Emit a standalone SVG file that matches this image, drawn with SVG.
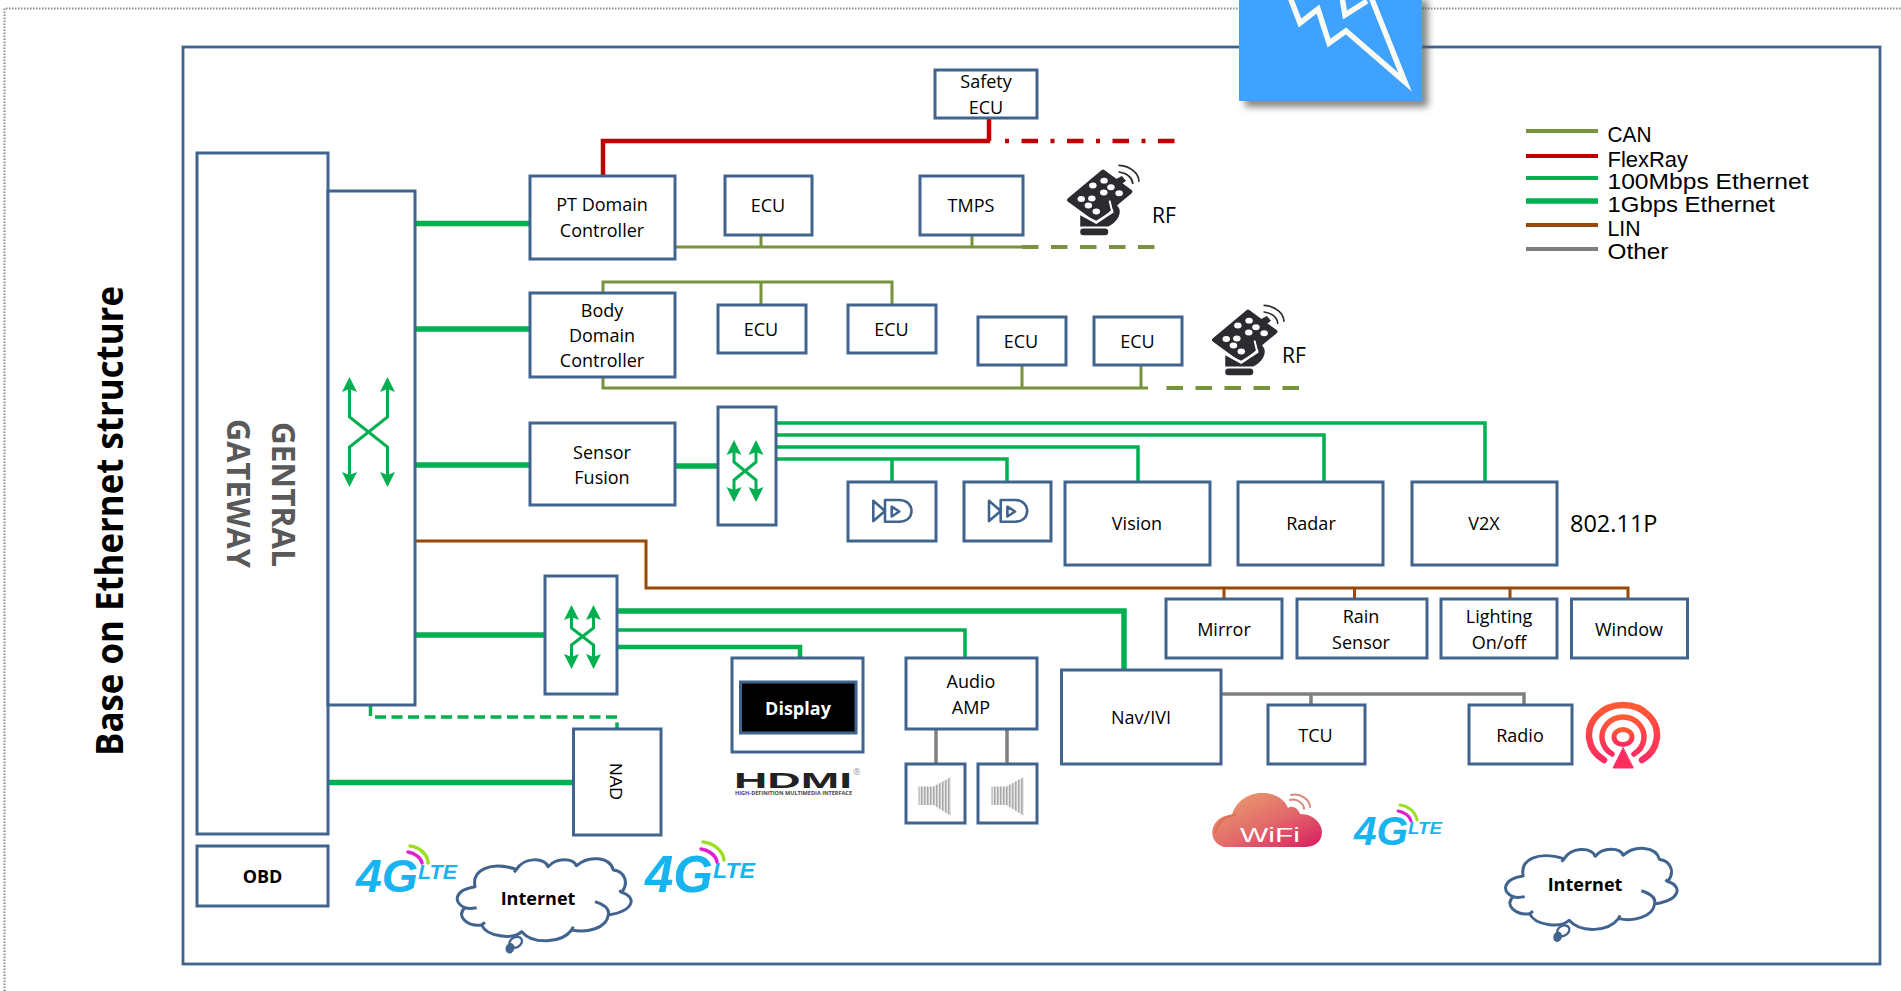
<svg xmlns="http://www.w3.org/2000/svg" width="1901" height="991" viewBox="0 0 1901 991">
<style>
text{font-family:"Open Sans","Liberation Sans",sans-serif;fill:#000}
.l{font-size:18px;text-anchor:middle}
.b{font-weight:700}
.lg{font-size:21.5px;font-family:"Liberation Sans",sans-serif}
.gw{font-size:33px;font-weight:700;fill:#595959}
.box{fill:#fff;stroke:#41648f;stroke-width:3;stroke-linejoin:miter}
.wire{fill:none;stroke-linejoin:miter}
.can{stroke:#77933c;stroke-width:3}
.can4{stroke:#77933c;stroke-width:4}
.fr{stroke:#c00000;stroke-width:4.5}
.e1{stroke:#00b050;stroke-width:3.5}
.e2{stroke:#00b050;stroke-width:5.5}
.lin{stroke:#984807;stroke-width:3}
.oth{stroke:#7f7f7f;stroke-width:3.5}
.sw{fill:none;stroke:#00b050;stroke-width:3;marker-start:url(#ah);marker-end:url(#ah)}
.g4{font-weight:700;font-style:italic;fill:#18b4f0;font-family:"Liberation Sans",sans-serif}
.arc{fill:none;stroke-linecap:round}
.cl{fill:#fff;stroke:#41648f;stroke-width:9;stroke-linejoin:round}
.dk{fill:#2b2b30}
</style>
<defs>
<marker id="ah" viewBox="0 0 16 16" refX="3" refY="8" markerWidth="16" markerHeight="16" markerUnits="userSpaceOnUse" orient="auto-start-reverse"><path d="M0,0.5 L15,8 L0,15.5 L3,8Z" fill="#00b050"/></marker>
<pattern id="stripes" width="3" height="8" patternUnits="userSpaceOnUse"><rect width="3" height="8" fill="#e6e6e6"/><rect width="1.500" height="8" fill="#a8a8a8"/></pattern>
<linearGradient id="wifi" x1="0" y1="0" x2="1" y2="1"><stop offset="0" stop-color="#eaa66e"/><stop offset="0.55" stop-color="#e2686a"/><stop offset="1" stop-color="#d81b60"/></linearGradient>
<linearGradient id="radio" x1="0" y1="0" x2="0" y2="1"><stop offset="0" stop-color="#ff5a32"/><stop offset="1" stop-color="#ff2c60"/></linearGradient>
<filter id="blur" x="-10%" y="-20%" width="120%" height="140%"><feGaussianBlur stdDeviation="3.5"/></filter>
<g id="cam"><path d="M873.3,500.7 L885,511 L873.3,521Z M885,500 H899 C907,500 911.5,505 911.5,511 C911.5,517 907,521.7 899,521.7 H885Z M891.7,506.7 L899.3,511.5 L891.7,516.5Z" fill="none" stroke="#41648f" stroke-width="2.6" stroke-linejoin="round"/></g>
<g id="spk"><path d="M918.5,786.5 H933.5 L951,777 V816 L933.5,805 H918.5Z" fill="url(#stripes)"/></g>
<g id="remote">
<path class="dk" d="M185,95 L265,155 L165,240 L85,180Z" stroke="#2b2b30" stroke-width="12" stroke-linejoin="round"/>
<g fill="#fff"><ellipse cx="188" cy="122" rx="11" ry="9"/><ellipse cx="208" cy="142" rx="11" ry="9"/><ellipse cx="232" cy="160" rx="11" ry="9"/><ellipse cx="155" cy="137" rx="11" ry="9"/><ellipse cx="187" cy="158" rx="11" ry="9"/><ellipse cx="121" cy="177" rx="11" ry="9"/><ellipse cx="152" cy="176" rx="11" ry="9"/><ellipse cx="142" cy="197" rx="11" ry="9"/><ellipse cx="165" cy="215" rx="11" ry="9"/></g>
<path d="M125,226 L165,246 L212,216 L204,182" fill="none" stroke="#fff" stroke-width="6"/>
<path class="dk" d="M118,226 L118,260 H200 C222,250 240,225 232,205 L214,178 L208,180 L216,218 L165,252Z"/>
<rect class="dk" x="118" y="266" width="82" height="20" rx="9"/>
<path class="dk" d="M222,118 L240,108 L252,122 L240,132Z"/>
<path class="arc" d="M232,96 C255,100 270,112 272,130 M232,76 C265,78 290,100 290,124" stroke="#2b2b30" stroke-width="5"/>
</g>
<g id="cloud">
<path class="cl" d="M405,155 C395,105 450,78 530,103 C550,68 610,65 625,95 C650,65 700,70 710,92 C745,60 810,65 820,105 C850,108 870,140 845,172 C890,185 885,228 805,240 C800,280 740,295 695,285 C665,325 580,330 545,290 C520,315 440,305 425,270 C385,275 345,245 375,218 C340,205 340,165 405,155Z"/>
<path d="M375,218 C385,222 400,220 410,218 M845,172 L838,166 M765,200 C790,208 810,220 805,240 M695,285 L700,275 M425,270 L435,262 M530,103 L522,112 M625,95 L620,90 M710,92 L705,88" fill="none" stroke="#41648f" stroke-width="9"/>
<ellipse cx="527" cy="322" rx="20" ry="15" transform="rotate(-30 527 322)" fill="#fff" stroke="#41648f" stroke-width="7"/>
<ellipse cx="510" cy="340" rx="13" ry="16" transform="rotate(20 510 340)" fill="#41648f"/>
</g>
</defs>

<g id="frame">
<path d="M4.5,991 V8.5 H1901" fill="none" stroke="#8a8a8a" stroke-width="2" stroke-dasharray="1.5 1.5"/>
<rect x="183" y="47" width="1697" height="917" fill="#fff" stroke="#41648f" stroke-width="2.8"/>
</g>

<text transform="translate(123,756) rotate(-90)" font-size="38" font-weight="700" textLength="470" lengthAdjust="spacingAndGlyphs">Base on Ethernet structure</text>

<g id="connectors">
<path class="wire fr" d="M603,176 V141 H990 M989,118 V141"/>
<path class="wire fr" d="M1005,141 H1175" stroke-dasharray="4 12.5 16.5 12.5"/>
<path class="wire can" d="M675,247 H1022 M761,235 V247 M972,235 V247"/>
<path class="wire can4" d="M1022,247 H1155" stroke-dasharray="16.5 12.5"/>
<path class="wire can" d="M603,293 V282 H892 V305 M761,282 V305"/>
<path class="wire can" d="M603,377 V388 H1148 M1022,365 V388 M1141,365 V388"/>
<path class="wire can4" d="M1166.5,388 H1300" stroke-dasharray="16.5 12.5"/>
<path class="wire e2" d="M415,223.500 H530 M415,329 H530 M415,465 H530 M675,466 H718 M415,635 H545 M328,782.500 H574"/>
<path class="wire e1" d="M776,423 H1485 V481 M776,435 H1324 V481 M776,447 H1138 V481 M776,459 H1007 V481 M892,459 V481"/>
<path class="wire e2" d="M617,611 H1124 V670"/>
<path class="wire e1" d="M617,630 H965 V658"/>
<path class="wire" stroke="#00b050" stroke-width="4.500" d="M617,647 H800 V658"/>
<path class="wire" stroke="#00b050" stroke-width="3.500" d="M370.500,705 V717 H617 V729" stroke-dasharray="11 5.500"/>
<path class="wire lin" d="M415,541 H646 V588 H1628 V599 M1224,588 V599 M1354.500,588 V599 M1510,588 V599"/>
<path class="wire oth" d="M1221,694 H1524 V705 M1311,694 V705 M936,729 V764 M1007,729 V764"/>
</g>

<g id="gateway"><rect class="box" x="197" y="153" width="131" height="681"/>
<text class="gw" transform="translate(272,422) rotate(90)" textLength="145" lengthAdjust="spacingAndGlyphs">GENTRAL</text>
<text class="gw" transform="translate(227,419) rotate(90)" textLength="149" lengthAdjust="spacingAndGlyphs">GATEWAY</text></g>
<g id="switch-main"><rect class="box" x="328" y="191" width="87" height="514"/>
<path class="sw" d="M349.500,389 V417 L387.500,447 V475"/><path class="sw" d="M387.500,389 V417 L349.500,447 V475"/></g>
<g id="switch-sensor"><rect class="box" x="718" y="407" width="58" height="118"/>
<path class="sw" d="M734,452 V462 L756,480 V490"/><path class="sw" d="M756,452 V462 L734,480 V490"/></g>
<g id="switch-ivi"><rect class="box" x="545" y="576" width="72" height="118"/>
<path class="sw" d="M571.500,617 V628 L593.500,645 V657"/><path class="sw" d="M593.500,617 V628 L571.500,645 V657"/></g>
<g id="obd"><rect class="box" x="197" y="846" width="131" height="60"/><text class="l b" x="262.500" y="882.500">OBD</text></g>
<g id="pt"><rect class="box" x="530" y="176" width="145" height="83"/><text class="l" x="602" y="211">PT Domain</text><text class="l" x="602" y="236.500">Controller</text></g>
<g id="body"><rect class="box" x="530" y="293" width="145" height="84"/><text class="l" x="602" y="316.500">Body</text><text class="l" x="602" y="341.500">Domain</text><text class="l" x="602" y="366.500">Controller</text></g>
<g id="sensor"><rect class="box" x="530" y="423" width="145" height="82"/><text class="l" x="602" y="459">Sensor</text><text class="l" x="602" y="484">Fusion</text></g>
<g id="safety"><rect class="box" x="935" y="70" width="102" height="48"/><text class="l" x="986" y="87.500">Safety</text><text class="l" x="986" y="114">ECU</text></g>
<g id="ecu1"><rect class="box" x="725" y="176" width="87" height="59"/><text class="l" x="768" y="212">ECU</text></g>
<g id="tmps"><rect class="box" x="920" y="176" width="103" height="59"/><text class="l" x="971" y="212">TMPS</text></g>
<g id="ecu2"><rect class="box" x="718" y="305" width="88" height="48"/><text class="l" x="761" y="335.500">ECU</text></g>
<g id="ecu3"><rect class="box" x="848" y="305" width="88" height="48"/><text class="l" x="891.500" y="335.500">ECU</text></g>
<g id="ecu4"><rect class="box" x="978" y="317" width="88" height="48"/><text class="l" x="1021" y="347.500">ECU</text></g>
<g id="ecu5"><rect class="box" x="1094" y="317" width="88" height="48"/><text class="l" x="1137.500" y="347.500">ECU</text></g>
<g id="rf1"><use href="#remote" transform="translate(1040,140) scale(0.341,0.333)"/><text x="1152" y="222.500" font-size="21">RF</text></g>
<g id="rf2"><use href="#remote" transform="translate(1185,280) scale(0.341,0.333)"/><text x="1282" y="363" font-size="21">RF</text></g>
<g id="cam1"><rect class="box" x="848" y="482" width="88" height="59"/><use href="#cam"/></g>
<g id="cam2"><rect class="box" x="964" y="482" width="87" height="59"/><use href="#cam" transform="translate(115.700,0)"/></g>
<g id="vision"><rect class="box" x="1065" y="482" width="145" height="83"/><text class="l" x="1137" y="530">Vision</text></g>
<g id="radar"><rect class="box" x="1238" y="482" width="145" height="83"/><text class="l" x="1311" y="530">Radar</text></g>
<g id="v2x"><rect class="box" x="1412" y="482" width="145" height="83"/><text class="l" x="1484" y="530">V2X</text></g>
<text x="1570" y="532" font-size="23.500">802.11P</text>
<g id="mirror"><rect class="box" x="1166" y="599" width="116" height="59"/><text class="l" x="1224" y="635.500">Mirror</text></g>
<g id="rain"><rect class="box" x="1297" y="599" width="130" height="59"/><text class="l" x="1361" y="622.500">Rain</text><text class="l" x="1361" y="649">Sensor</text></g>
<g id="lighting"><rect class="box" x="1441" y="599" width="116" height="59"/><text class="l" x="1499" y="622.500">Lighting</text><text class="l" x="1499" y="649">On/off</text></g>
<g id="window"><rect class="box" x="1571.500" y="599" width="116" height="59"/><text class="l" x="1629" y="635.500">Window</text></g>
<g id="display"><rect class="box" x="732" y="658" width="131" height="94"/><rect x="740.500" y="682" width="115.500" height="51" fill="#000" stroke="#41648f" stroke-width="3"/><text class="l b" x="798" y="714.500" style="fill:#fff">Display</text></g>
<g id="hdmi"><text x="734" y="788" font-size="22" font-weight="700" textLength="118" lengthAdjust="spacingAndGlyphs" style="fill:#222;font-family:'Liberation Sans',sans-serif">HDMI</text><text x="853" y="775" font-size="9" style="fill:#999">®</text><text x="735" y="794.500" font-size="4.800" font-weight="700" textLength="117" lengthAdjust="spacingAndGlyphs" style="fill:#444">HIGH-DEFINITION MULTIMEDIA INTERFACE</text></g>
<g id="audio"><rect class="box" x="906" y="658" width="131" height="71"/><text class="l" x="971" y="687.500">Audio</text><text class="l" x="971" y="713.500">AMP</text></g>
<g id="spk1"><rect class="box" x="906" y="764" width="59" height="59"/><use href="#spk"/></g>
<g id="spk2"><rect class="box" x="978" y="764" width="59" height="59"/><use href="#spk" transform="translate(73,0)"/></g>
<g id="nav"><rect class="box" x="1061.500" y="670" width="159.500" height="94"/><text class="l" x="1141" y="724">Nav/IVI</text></g>
<g id="tcu"><rect class="box" x="1268" y="705" width="97" height="59"/><text class="l" x="1315.500" y="741.500">TCU</text></g>
<g id="radio-box"><rect class="box" x="1469" y="705" width="103" height="59"/><text class="l" x="1520" y="741.500">Radio</text></g>
<g id="radio-icon" fill="none" stroke="url(#radio)" stroke-linecap="round">
<path d="M1604,760 A34,30 0 1 1 1642,760" stroke-width="6.500"/>
<path d="M1612,754 A21,20 0 1 1 1634,754" stroke-width="5.500"/>
<ellipse cx="1623" cy="737" rx="9" ry="7.500" stroke-width="5"/>
<path d="M1623,748 L1613,768 H1633Z" fill="#ff2c60" stroke="#ff2c60" stroke-width="1" stroke-linejoin="round"/>
</g>
<g id="wifi-icon">
<path d="M1224,847 C1205,842 1210,815 1232,815 C1236,800 1250,793 1262,793 C1276,793 1285,800 1288,808 C1292,805 1298,808 1300,814 C1315,814 1322,825 1322,832 C1322,842 1314,847 1305,847Z" fill="url(#wifi)"/>
<path class="arc" d="M1216,833 C1216,824 1224,816 1235,815" stroke="#e0705a" stroke-width="2.500"/>
<path class="arc" d="M1290,800 C1296,798 1304,803 1304,809 M1291,795 C1301,793 1310,800 1310,807" stroke="#d98a80" stroke-width="2"/>
<text x="1240" y="842" font-size="21" textLength="60" lengthAdjust="spacingAndGlyphs" style="fill:#fff;font-family:'Liberation Sans',sans-serif">WiFi</text>
</g>
<g id="lte1"><text class="g4" x="356" y="892" font-size="47" textLength="62" lengthAdjust="spacingAndGlyphs">4G</text><text class="g4" x="418" y="879" font-size="20" textLength="39" lengthAdjust="spacingAndGlyphs">LTE</text><path class="arc" d="M410,846 C420,847 428,855 428,863" stroke="#9be020" stroke-width="3.500"/><path class="arc" d="M408,852 C415,853 421,858 422,863" stroke="#e020d0" stroke-width="3.500"/></g>
<g id="lte2"><text class="g4" x="645" y="892" font-size="52" textLength="68" lengthAdjust="spacingAndGlyphs">4G</text><text class="g4" x="713" y="878" font-size="22" textLength="42" lengthAdjust="spacingAndGlyphs">LTE</text><path class="arc" d="M703,842 C714,843 723,851 724,860" stroke="#9be020" stroke-width="3.500"/><path class="arc" d="M701,849 C708,850 716,855 717,862" stroke="#e020d0" stroke-width="3.500"/></g>
<g id="lte3"><text class="g4" x="1354" y="845" font-size="41" textLength="54" lengthAdjust="spacingAndGlyphs">4G</text><text class="g4" x="1408" y="834" font-size="17" textLength="34" lengthAdjust="spacingAndGlyphs">LTE</text><path class="arc" d="M1400,805 C1409,806 1416,813 1417,820" stroke="#9be020" stroke-width="3"/><path class="arc" d="M1398,811 C1404,812 1410,816 1411,821" stroke="#e020d0" stroke-width="3"/></g>
<g id="nad"><rect class="box" x="573.500" y="729" width="87.500" height="106"/><text x="610" y="763" transform="rotate(90 610 763)" font-size="17" textLength="37" lengthAdjust="spacingAndGlyphs" style="font-family:'Liberation Sans',sans-serif">NAD</text></g>
<g id="internet1"><use href="#cloud" transform="translate(340,835) scale(0.3333)"/><text class="l b" x="538" y="905">Internet</text></g>
<g id="internet2"><use href="#cloud" transform="translate(1390,825) scale(0.3287)"/><text class="l b" x="1585" y="891">Internet</text></g>

<g id="legend">
<path class="wire" stroke="#77933c" stroke-width="4" d="M1526,131 H1598"/>
<path class="wire" stroke="#c00000" stroke-width="4" d="M1526,156 H1598"/>
<path class="wire" stroke="#00b050" stroke-width="4" d="M1526,178 H1598"/>
<path class="wire" stroke="#00b050" stroke-width="5.500" d="M1526,201 H1598"/>
<path class="wire" stroke="#984807" stroke-width="4" d="M1526,225 H1598"/>
<path class="wire" stroke="#7f7f7f" stroke-width="4" d="M1526,249 H1598"/>
<text class="lg" x="1607.500" y="141.500" textLength="44" lengthAdjust="spacingAndGlyphs">CAN</text>
<text class="lg" x="1607.500" y="166.500" textLength="80.500" lengthAdjust="spacingAndGlyphs">FlexRay</text>
<text class="lg" x="1607.500" y="188.500" textLength="201" lengthAdjust="spacingAndGlyphs">100Mbps Ethernet</text>
<text class="lg" x="1607.500" y="211.500" textLength="167.500" lengthAdjust="spacingAndGlyphs">1Gbps Ethernet</text>
<text class="lg" x="1607.500" y="235.500" textLength="33" lengthAdjust="spacingAndGlyphs">LIN</text>
<text class="lg" x="1607.500" y="258.500" textLength="61" lengthAdjust="spacingAndGlyphs">Other</text>
</g>

<g id="tile">
<rect x="1245" y="0" width="183" height="107" fill="#555" opacity="0.7" filter="url(#blur)"/>
<rect x="1239" y="0" width="183" height="101" fill="#3fa2ff"/>
<path d="M1290,-3 L1300,23 L1318,9 L1329,43 L1346,31 L1405,82 L1371,-3 M1342,-3 L1345,15 L1367,1" fill="none" stroke="#fbfbf6" stroke-width="5.500" stroke-miterlimit="20"/>
</g>
</svg>
